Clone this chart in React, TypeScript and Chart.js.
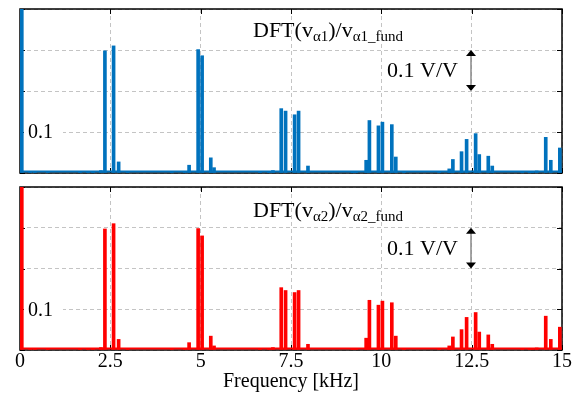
import React, { useEffect, useRef } from "react";
import { Chart, registerables } from "chart.js";
Chart.register(...registerables);

// Harmonic frequencies in kHz (shared by both panels)
const harmonicFreqs = [
  0.05, 0.28, 0.41, 0.77, 1.66, 1.88, 2.02, 2.24, 2.35, 2.59, 2.73, 2.98,
  4.2, 4.56, 4.68, 4.93, 5.04, 5.28, 5.37, 6.64, 6.89, 7.0, 7.23, 7.35,
  7.6, 7.71, 7.97, 9.2, 9.3, 9.58, 9.67, 9.92, 10.03, 10.29, 10.4, 10.63,
  11.6, 11.88, 11.98, 12.22, 12.36, 12.61, 12.71, 12.96, 13.07, 13.9, 14.1,
  14.18, 14.3, 14.55, 14.69, 14.94,
];
// DFT(v_alpha1)/v_alpha1_fund
const alpha1Values = [
  1.0, 0.003, 0.002, 0.002, 0.003, 0.003, 0.002, 0.006, 0.298, 0.31, 0.027, 0.002,
  0.002, 0.003, 0.019, 0.301, 0.286, 0.037, 0.013, 0.002, 0.003, 0.006, 0.157, 0.151,
  0.142, 0.151, 0.017, 0.002, 0.002, 0.031, 0.128, 0.115, 0.124, 0.118, 0.039, 0.003,
  0.002, 0.01, 0.033, 0.052, 0.082, 0.096, 0.045, 0.041, 0.017, 0.002, 0.003,
  0.004, 0.005, 0.087, 0.031, 0.061,
];
// DFT(v_alpha2)/v_alpha2_fund
const alpha2Values = [
  1.0, 0.003, 0.002, 0.002, 0.003, 0.003, 0.002, 0.006, 0.297, 0.31, 0.026, 0.002,
  0.002, 0.004, 0.018, 0.298, 0.28, 0.034, 0.01, 0.002, 0.003, 0.006, 0.153, 0.146,
  0.141, 0.146, 0.014, 0.002, 0.002, 0.029, 0.122, 0.11, 0.12, 0.116, 0.034, 0.003,
  0.002, 0.01, 0.032, 0.05, 0.08, 0.092, 0.044, 0.037, 0.014, 0.002, 0.003,
  0.004, 0.005, 0.083, 0.026, 0.056,
];
const xTickValues = [0, 2.5, 5, 7.5, 10, 12.5, 15];
const yTickValues = [0, 0.1, 0.2, 0.3, 0.4];
const yLabelText = "0.1";
const scaleBarText = "0.1 V/V";
const xTitle = "Frequency [kHz]";

const SERIF = "'Liberation Serif', 'Times New Roman', serif";

type Part = { t: string; sub?: boolean };

const decorPlugin = {
  id: "panelDecor",
  beforeDatasetsDraw(chart: any) {
    const { ctx, chartArea: a, scales } = chart;
    const x = scales.x, y = scales.y;
    ctx.save();
    ctx.strokeStyle = "#000";
    ctx.lineWidth = 1.5;
    ctx.strokeRect(a.left, a.top, a.right - a.left, a.bottom - a.top);
    ctx.lineWidth = 1;
    ctx.beginPath();
    xTickValues.forEach((v) => {
      const px = Math.round(x.getPixelForValue(v)) + 0.5;
      ctx.moveTo(px, a.top);
      ctx.lineTo(px, a.top + 5);
      ctx.moveTo(px, a.bottom);
      ctx.lineTo(px, a.bottom - 5);
    });
    yTickValues.forEach((v) => {
      const py = Math.round(y.getPixelForValue(v)) + 0.5;
      ctx.moveTo(a.left, py);
      ctx.lineTo(a.left + 5, py);
      ctx.moveTo(a.right, py);
      ctx.lineTo(a.right - 5, py);
    });
    ctx.stroke();
    ctx.restore();
  },
  afterDraw(chart: any, _args: any, opts: any) {
    const { ctx, chartArea: a, scales } = chart;
    const y = scales.y;
    ctx.save();
    // colored baseline
    ctx.strokeStyle = opts.color;
    ctx.lineWidth = 2;
    ctx.beginPath();
    ctx.moveTo(a.left, a.bottom - 1.5);
    ctx.lineTo(a.right, a.bottom - 1.5);
    ctx.stroke();
    // 0.1 label
    const py = y.getPixelForValue(0.1);
    ctx.fillStyle = "#fff";
    ctx.fillRect(a.left + 4, py - 8, 39, 16);
    ctx.fillStyle = "#000";
    ctx.font = `20px ${SERIF}`;
    ctx.textBaseline = "middle";
    ctx.textAlign = "left";
    ctx.fillText(yLabelText, a.left + 8, py + 1);
    // rich title
    ctx.textBaseline = "alphabetic";
    let cx = opts.titleX;
    (opts.title as Part[]).forEach((p) => {
      ctx.font = p.sub ? `15px ${SERIF}` : `22px ${SERIF}`;
      ctx.fillText(p.t, cx, opts.titleY + (p.sub ? 4 : 0));
      cx += ctx.measureText(p.t).width;
    });
    // scale bar
    ctx.font = `22px ${SERIF}`;
    const y3 = y.getPixelForValue(0.3);
    const y2 = y.getPixelForValue(0.2);
    ctx.textBaseline = "middle";
    ctx.fillText(scaleBarText, opts.barTextX, (y3 + y2) / 2 + 1);
    const ax = opts.arrowX;
    ctx.strokeStyle = "#888";
    ctx.lineWidth = 1.5;
    ctx.beginPath();
    ctx.moveTo(ax, y3 + 5);
    ctx.lineTo(ax, y2 - 5);
    ctx.stroke();
    ctx.fillStyle = "#000";
    ctx.beginPath();
    ctx.moveTo(ax, y3);
    ctx.lineTo(ax - 5, y3 + 6);
    ctx.lineTo(ax + 5, y3 + 6);
    ctx.closePath();
    ctx.fill();
    ctx.beginPath();
    ctx.moveTo(ax, y2);
    ctx.lineTo(ax - 5, y2 - 6);
    ctx.lineTo(ax + 5, y2 - 6);
    ctx.closePath();
    ctx.fill();
    ctx.restore();
  },
};

function makeConfig(values: number[], color: string, title: Part[], bottom: boolean): any {
  return {
    type: "bar",
    data: {
      datasets: [
        {
          data: harmonicFreqs.map((f, i) => ({ x: f, y: values[i] })),
          backgroundColor: color,
          borderWidth: 0,
          barThickness: 3,
        },
      ],
    },
    plugins: [decorPlugin],
    options: {
      responsive: false,
      animation: false,
      events: [],
      layout: {
        padding: bottom
          ? { left: 20, right: 19, top: 7, bottom: 0 }
          : { left: 20, right: 19, top: 9, bottom: 7 },
      },
      plugins: {
        legend: { display: false },
        tooltip: { enabled: false },
        panelDecor: {
          color,
          title,
          titleX: 253,
          titleY: 37,
          barTextX: 387,
          arrowX: 471,
        },
      },
      scales: {
        x: {
          type: "linear",
          min: 0,
          max: 15,
          offset: false,
          afterBuildTicks: (s: any) => {
            s.ticks = xTickValues.map((v) => ({ value: v }));
          },
          afterFit: bottom
            ? (s: any) => {
                s.height = 52;
              }
            : undefined,
          grid: {
            offset: false,
            color: "#c4c4c4",
            lineWidth: 1,
            drawTicks: false,
          },
          border: { display: false, dash: [4, 3] },
          ticks: {
            display: bottom,
            padding: 0,
            autoSkip: false,
            maxRotation: 0,
            color: "#000",
            font: { family: SERIF, size: 20 },
            callback: (v: any) => String(v),
          },
          title: {
            display: bottom,
            text: xTitle,
            color: "#000",
            font: { family: SERIF, size: 20 },
            padding: { top: 0, bottom: 8 },
          },
        },
        y: {
          min: 0,
          max: 0.4,
          afterBuildTicks: (s: any) => {
            s.ticks = yTickValues.map((v) => ({ value: v }));
          },
          grid: { color: "#c4c4c4", lineWidth: 1, drawTicks: false },
          border: { display: false, dash: [4, 3] },
          ticks: { display: false },
        },
      },
    },
  };
}

const topTitle: Part[] = [
  { t: "DFT(v" },
  { t: "α1", sub: true },
  { t: ")/v" },
  { t: "α1_fund", sub: true },
];
const bottomTitle: Part[] = [
  { t: "DFT(v" },
  { t: "α2", sub: true },
  { t: ")/v" },
  { t: "α2_fund", sub: true },
];

export default function App() {
  const topRef = useRef<HTMLCanvasElement>(null);
  const botRef = useRef<HTMLCanvasElement>(null);
  useEffect(() => {
    const c1 = new Chart(topRef.current!, makeConfig(alpha1Values, "#0072BD", topTitle, false));
    const c2 = new Chart(botRef.current!, makeConfig(alpha2Values, "#FF0000", bottomTitle, true));
    return () => {
      c1.destroy();
      c2.destroy();
    };
  }, []);
  return (
    <div style={{ position: "absolute", left: 0, top: 0, width: 581, height: 402, background: "#fff" }}>
      <canvas ref={topRef} width={581} height={180} style={{ position: "absolute", left: 0, top: 0, width: 581, height: 180 }} />
      <canvas ref={botRef} width={581} height={222} style={{ position: "absolute", left: 0, top: 180, width: 581, height: 222 }} />
    </div>
  );
}
